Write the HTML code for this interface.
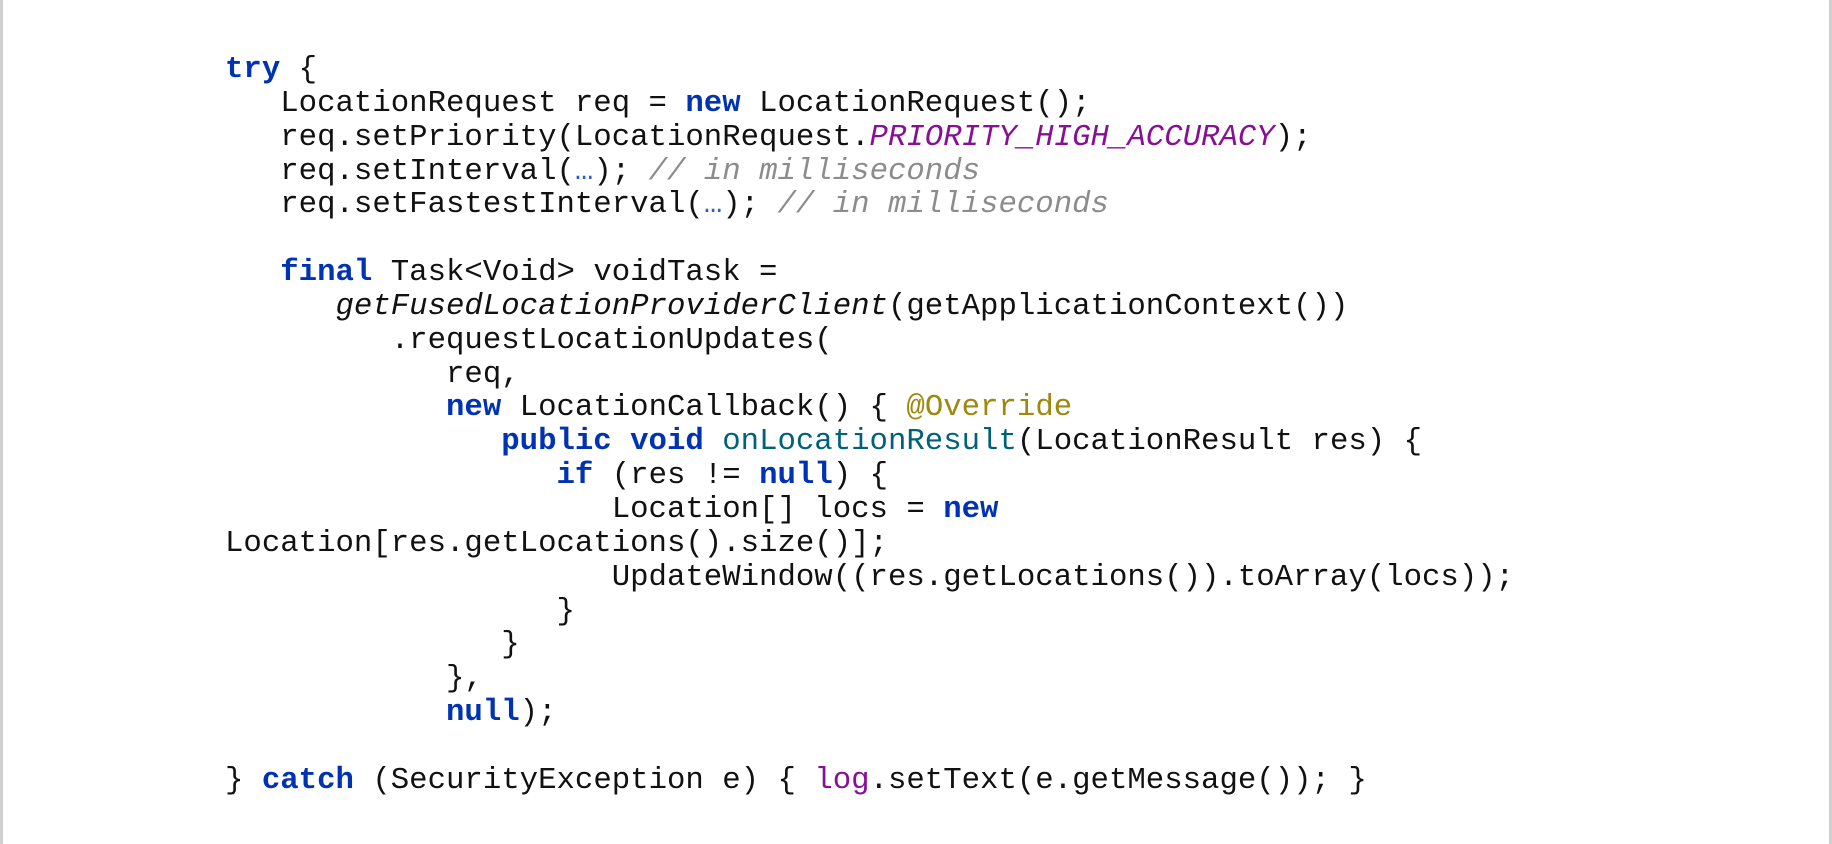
<!DOCTYPE html>
<html><head><meta charset="utf-8"><style>
html,body{margin:0;padding:0;background:#fff;}
body{width:1832px;height:844px;position:relative;overflow:hidden;}
.bl{position:absolute;left:0;top:0;width:3px;height:844px;background:#d0d0d0;}
.br{position:absolute;left:1829px;top:0;width:3px;height:844px;background:#d0d0d0;}
pre{position:absolute;left:225px;top:53px;margin:0;font-family:"Liberation Mono",monospace;font-size:30.7px;line-height:33.85px;color:#111;}
.k{color:#0033b3;font-weight:bold;}
.p{color:#871094;font-style:italic;}
.c{color:#8c8c8c;font-style:italic;}
.a{color:#9e880d;}
.m{color:#00627a;}
.e{color:#2a5fd0;}
.i{font-style:italic;}
.l{color:#871094;}
</style></head><body>
<div class="bl"></div><div class="br"></div>
<pre><span class="k">try</span> {
   LocationRequest req = <span class="k">new</span> LocationRequest();
   req.setPriority(LocationRequest.<span class="p">PRIORITY_HIGH_ACCURACY</span>);
   req.setInterval(<span class="e">…</span>); <span class="c">// in milliseconds</span>
   req.setFastestInterval(<span class="e">…</span>); <span class="c">// in milliseconds</span>

   <span class="k">final</span> Task&lt;Void&gt; voidTask =
      <span class="i">getFusedLocationProviderClient</span>(getApplicationContext())
         .requestLocationUpdates(
            req,
            <span class="k">new</span> LocationCallback() { <span class="a">@Override</span>
               <span class="k">public void</span> <span class="m">onLocationResult</span>(LocationResult res) {
                  <span class="k">if</span> (res != <span class="k">null</span>) {
                     Location[] locs = <span class="k">new</span>
Location[res.getLocations().size()];
                     UpdateWindow((res.getLocations()).toArray(locs));
                  }
               }
            },
            <span class="k">null</span>);

} <span class="k">catch</span> (SecurityException e) { <span class="l">log</span>.setText(e.getMessage()); }</pre>
</body></html>
